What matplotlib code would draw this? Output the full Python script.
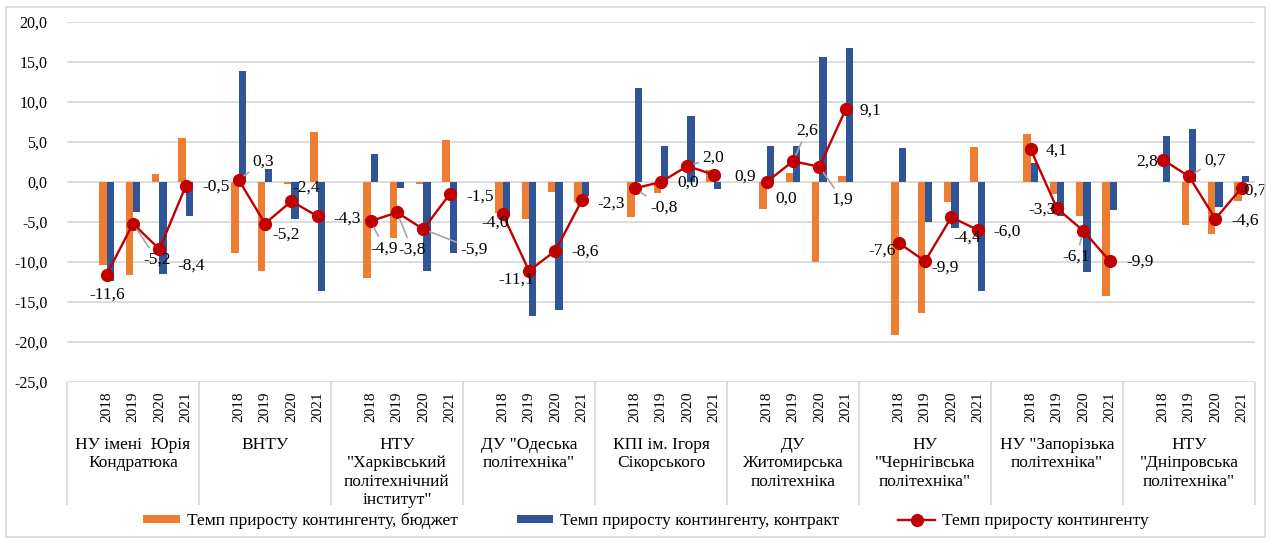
import numpy as np
import matplotlib.pyplot as plt
from matplotlib.patches import Rectangle

plt.rcParams['font.family'] = ['Liberation Serif', 'DejaVu Serif']

# дані (по 4 роки на кожен заклад)
universities = ['НУ імені  Юрія\nКондратюка', 'ВНТУ',
                'НТУ\n"Харківський\nполітехнічний\nінститут"',
                'ДУ "Одеська\nполітехніка"', 'КПІ ім. Ігоря\nСікорського',
                'ДУ\nЖитомирська\nполітехніка', 'НУ\n"Чернігівська\nполітехніка"',
                'НУ "Запорізька\nполітехніка"', 'НТУ\n"Дніпровська\nполітехніка"']
years = ['2018', '2019', '2020', '2021']

budget = [-10.4, -11.6, 1.0, 5.5,
          -8.9, -11.1, -0.2, 6.3,
          -12.0, -7.0, -0.2, 5.3,
          -3.9, -4.6, -1.3, -2.5,
          -4.4, -1.4, 0.0, 1.5,
          -3.4, 1.1, -10.0, 0.8,
          -19.1, -16.4, -2.5, 4.4,
          6.0, -1.5, -4.3, -14.3,
          0.0, -5.4, -6.5, -2.4]
contract = [-12.4, -3.8, -11.5, -4.2,
            13.9, 1.6, -4.6, -13.6,
            3.5, -0.8, -11.1, -8.9,
            -4.2, -16.8, -16.0, -1.8,
            11.8, 4.5, 8.3, -0.9,
            4.5, 4.5, 15.6, 16.7,
            4.3, -5.0, -5.8, -13.6,
            2.4, -4.3, -11.2, -3.5,
            5.8, 6.6, -3.1, 0.8]
total = [-11.6, -5.2, -8.4, -0.5,
         0.3, -5.2, -2.4, -4.3,
         -4.9, -3.8, -5.9, -1.5,
         -4.0, -11.1, -8.6, -2.3,
         -0.8, 0.0, 2.0, 0.9,
         0.0, 2.6, 1.9, 9.1,
         -7.6, -9.9, -4.4, -6.0,
         4.1, -3.3, -6.1, -9.9,
         2.8, 0.7, -4.6, -0.7]

# зміщення підписів (пікселі) і чи є лінія-виноска
label_off = [(1, -20), (24, -36), (32, -16), (30, -1),
             (25, 18), (21, -11), (15, 14), (29, -2),
             (14, -27), (15, -37), (51, -20), (30, -3),
             (-7, -9), (-13, -9), (30, -1), (29, -3),
             (29, -19), (27, -1), (26, 8), (31, -2),
             (20, -17), (14, 31), (23, -33), (25, -1),
             (-17, -8), (20, -6), (16, -20), (29, -2),
             (26, -1), (-15, -1), (-7, -26), (30, 0),
             (-15, -2), (26, 16), (30, -2), (11, -3)]
leader = {1, 4, 8, 9, 10, 16, 18, 21, 22, 30, 33}

n = len(universities)
# кожна група: порожня категорія + 4 роки
def with_gaps(vals):
    arr = np.full((n, 5), np.nan)
    arr[:, 1:] = np.array(vals).reshape(n, 4)
    return arr.ravel()

x = np.arange(n * 5)
b = with_gaps(budget)
c = with_gaps(contract)
t = with_gaps(total)

FS = 12.5
fig = plt.figure(figsize=(12.76, 5.42), dpi=100)
ax = fig.add_axes([67 / 1276, 1 - 382 / 542, (1255 - 67) / 1276, 360 / 542])

w = 0.28
h1 = ax.bar(x - w / 2, b, width=w, color='#ED7D31', zorder=2, label='Темп приросту контингенту, бюджет')
h2 = ax.bar(x + w / 2, c, width=w, color='#2F5597', zorder=2, label='Темп приросту контингенту, контракт')
h3, = ax.plot(x, t, color='#C00000', lw=1.7, marker='o', ms=8.5, zorder=3, label='Темп приросту контингенту')

xs = x[~np.isnan(t)]
for i, (xx, v) in enumerate(zip(xs, total)):
    dx, dy = label_off[i]
    kw = {}
    if i in leader:
        kw['arrowprops'] = dict(arrowstyle='-', color='#A6A6A6', lw=1.2, shrinkA=1, shrinkB=5)
    ax.annotate(f"{v:.1f}".replace('.', ','), (xx, v), xytext=(dx, dy),
                textcoords='offset pixels', ha='center', va='center',
                fontsize=FS, zorder=4, **kw)

ax.set_xlim(-0.5, n * 5 - 0.5)
ax.set_ylim(-25, 20)
yt = np.arange(-25, 21, 5)
ax.set_yticks(yt)
ax.set_yticklabels([f"{v:.1f}".replace('.', ',') for v in yt], fontsize=11.5)
ax.tick_params(axis='y', length=0, pad=14)
ax.set_xticks([])
ax.grid(axis='y', color='#D9D9D9', lw=1.3, zorder=0)
ax.set_axisbelow(True)
for s in ax.spines.values():
    s.set_visible(False)

# багаторівнева вісь категорій
tr = ax.get_xaxis_transform()
for g in range(n):
    for k, yr in enumerate(years):
        ax.text(g * 5 + 1 + k, -10 / 360, yr, rotation=90, ha='center', va='top',
                fontsize=11, transform=tr)
    ax.text(g * 5 + 2, -55 / 360, universities[g], ha='center', va='top',
            fontsize=FS, linespacing=1.2, transform=tr)
ax.vlines(np.arange(n + 1) * 5 - 0.5, -123 / 360, 0, transform=tr, color='#D9D9D9',
          lw=1.3, clip_on=False)

fig.legend([h1, h2, h3], [h1.get_label(), h2.get_label(), h3.get_label()],
           loc='center', bbox_to_anchor=(646 / 1276, 1 - 521 / 542), ncol=3,
           frameon=False, fontsize=FS, columnspacing=3.4, handlelength=2.1,
           handleheight=0.4, handletextpad=0.4)

fig.patches.append(Rectangle((6 / 1276, 5 / 542), 1259 / 1276, 530 / 542,
                             transform=fig.transFigure, fill=False,
                             edgecolor='#D9D9D9', lw=1.2))

fig.savefig('out.png', dpi=100)
